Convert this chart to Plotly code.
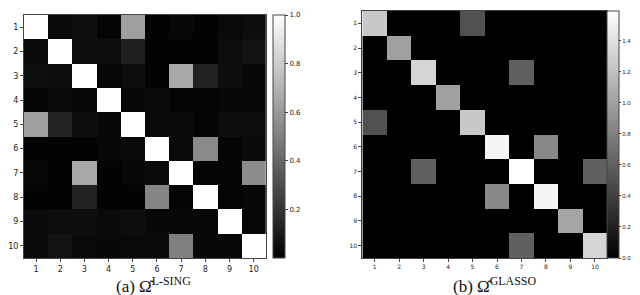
import plotly.graph_objects as go

labels = [str(i) for i in range(1, 11)]

lsing = [
    [1.00, 0.04, 0.06, 0.02, 0.62, 0.01, 0.03, 0.01, 0.04, 0.05],
    [0.04, 1.00, 0.05, 0.05, 0.12, 0.01, 0.01, 0.01, 0.05, 0.07],
    [0.06, 0.05, 1.00, 0.03, 0.05, 0.01, 0.66, 0.13, 0.05, 0.03],
    [0.02, 0.04, 0.03, 1.00, 0.03, 0.04, 0.02, 0.02, 0.03, 0.03],
    [0.62, 0.14, 0.05, 0.03, 1.00, 0.04, 0.04, 0.02, 0.05, 0.05],
    [0.01, 0.01, 0.01, 0.03, 0.04, 1.00, 0.04, 0.54, 0.02, 0.04],
    [0.03, 0.01, 0.66, 0.01, 0.03, 0.04, 1.00, 0.02, 0.02, 0.55],
    [0.01, 0.01, 0.13, 0.01, 0.01, 0.52, 0.02, 1.00, 0.02, 0.03],
    [0.04, 0.05, 0.05, 0.04, 0.05, 0.03, 0.03, 0.03, 1.00, 0.03],
    [0.04, 0.07, 0.04, 0.03, 0.04, 0.04, 0.50, 0.03, 0.03, 1.00],
]

glasso = [
    [1.25, 0, 0, 0, 0.50, 0, 0, 0, 0, 0],
    [0, 1.00, 0, 0, 0, 0, 0, 0, 0, 0],
    [0, 0, 1.33, 0, 0, 0, 0.60, 0, 0, 0],
    [0, 0, 0, 1.00, 0, 0, 0, 0, 0, 0],
    [0.50, 0, 0, 0, 1.25, 0, 0, 0, 0, 0],
    [0, 0, 0, 0, 0, 1.53, 0, 0.85, 0, 0],
    [0, 0, 0.60, 0, 0, 0, 1.59, 0, 0, 0.60],
    [0, 0, 0, 0, 0, 0.85, 0, 1.53, 0, 0],
    [0, 0, 0, 0, 0, 0, 0, 0, 1.03, 0],
    [0, 0, 0, 0, 0, 0, 0.60, 0, 0, 1.33],
]

cb_left_ticks = [0.2, 0.4, 0.6, 0.8, 1.0]
cb_right_ticks = [0.0, 0.2, 0.4, 0.6, 0.8, 1.0, 1.2, 1.4]

W, H = 640, 295
gray = [[0, "black"], [1, "white"]]

def fx(px):
    return px / W

def fy(py):
    return 1 - py / H

fig = go.Figure()

fig.add_trace(go.Heatmap(
    z=lsing, x=labels, y=labels, colorscale=gray, zmin=0.0, zmax=1.0,
    xaxis="x", yaxis="y",
    colorbar=dict(
        x=fx(263), xanchor="left", y=fy(250), yanchor="bottom",
        len=(250 - 7) / H, lenmode="fraction", thickness=12, thicknessmode="pixels",
        xpad=0, ypad=0, outlinewidth=1, outlinecolor="#444",
        tickvals=cb_left_ticks, ticktext=[f"{v:.1f}" for v in cb_left_ticks],
        ticks="outside", ticklen=3, tickcolor="#444",
        tickfont=dict(size=7, family="DejaVu Sans", color="#222"),
    ),
))

fig.add_trace(go.Heatmap(
    z=glasso, x=labels, y=labels, colorscale=gray, zmin=0.0, zmax=1.59,
    xaxis="x2", yaxis="y2",
    colorbar=dict(
        x=fx(599), xanchor="left", y=fy(250), yanchor="bottom",
        len=(250 - 3) / H, lenmode="fraction", thickness=12, thicknessmode="pixels",
        xpad=0, ypad=0, outlinewidth=1, outlinecolor="#444",
        tickvals=cb_right_ticks, ticktext=[f"{v:.1f}" for v in cb_right_ticks],
        ticks="outside", ticklen=2, tickcolor="#444",
        tickfont=dict(size=6, family="Liberation Sans", color="#222"),
    ),
))

axis_common = dict(showgrid=False, zeroline=False, ticks="outside", ticklen=3,
                   tickcolor="#444", showline=True, linecolor="#444", linewidth=1,
                   mirror=True)

cap_font = dict(size=17, family="Liberation Serif, DejaVu Serif, serif", color="#111")

fig.update_layout(
    width=W, height=H, margin=dict(l=0, r=0, t=0, b=0),
    paper_bgcolor="white", plot_bgcolor="white", showlegend=False,
    xaxis=dict(domain=[fx(13), fx(256)], anchor="y", tickfont=dict(size=8, family="DejaVu Sans", color="#222"), **axis_common),
    yaxis=dict(domain=[fy(250), fy(7)], anchor="x", autorange="reversed", tickfont=dict(size=8, family="DejaVu Sans", color="#222"), **axis_common),
    xaxis2=dict(domain=[fx(353), fx(599)], anchor="y2", tickfont=dict(size=6, family="DejaVu Sans", color="#222"), **axis_common),
    yaxis2=dict(domain=[fy(250), fy(3)], anchor="x2", autorange="reversed", tickfont=dict(size=6, family="DejaVu Sans", color="#222"), **axis_common),
    annotations=[
        dict(text="(a) Ω\u0302<sup>L-SING</sup>", x=fx(143), y=fy(290), xref="paper", yref="paper",
             showarrow=False, font=cap_font, xanchor="center", yanchor="bottom"),
        dict(text="(b) Ω\u0302<sup>GLASSO</sup>", x=fx(486), y=fy(290), xref="paper", yref="paper",
             showarrow=False, font=cap_font, xanchor="center", yanchor="bottom"),
    ],
)

fig.write_html("out.html")
